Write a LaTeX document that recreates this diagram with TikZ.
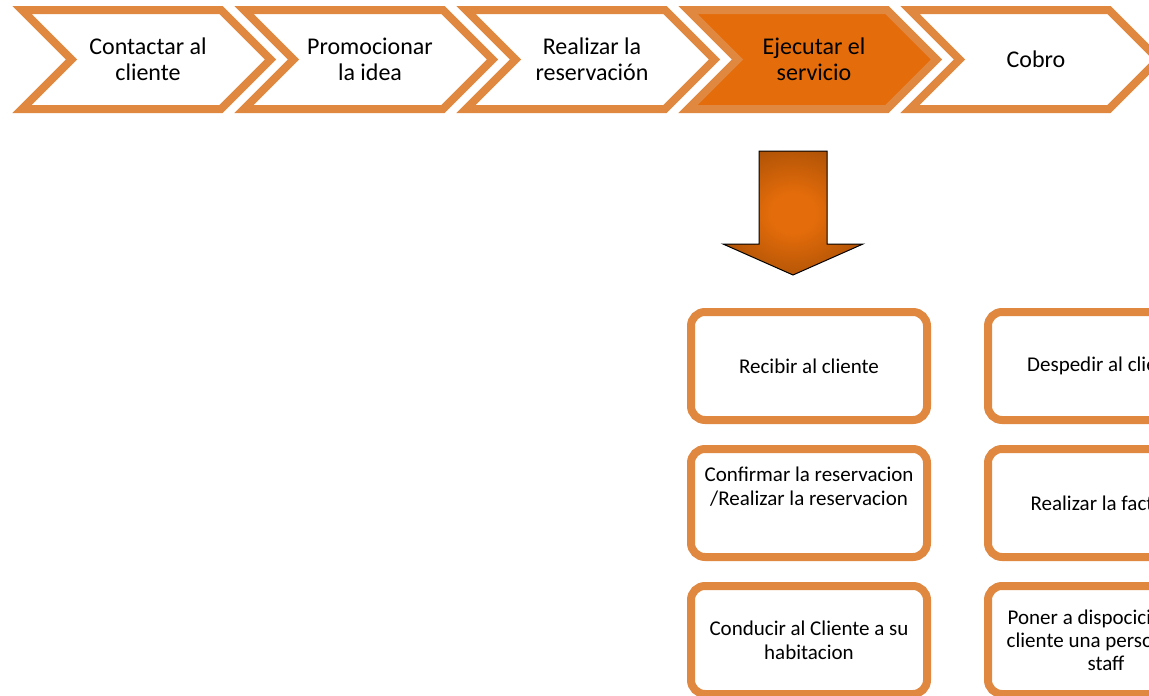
\documentclass[tikz,border=0pt]{standalone}
\usepackage{fontspec}
\setmainfont{Carlito}
\usetikzlibrary{backgrounds}
\definecolor{brd}{RGB}{224,136,64}
\definecolor{darkor}{RGB}{228,108,10}
\definecolor{peach}{RGB}{249,199,172}
\definecolor{brownish}{RGB}{136,64,4}
\pgfdeclareradialshading{arrowsh}{\pgfpoint{0bp}{0bp}}{color(0bp)=(darkor); color(8bp)=(darkor); color(42bp)=(brownish); color(50bp)=(brownish)}
\begin{document}
\begin{tikzpicture}[x=1pt,y=-1pt,
 chev/.style={draw=brd,line width=8pt,line join=miter,fill=white},
 chevtext/.style={align=center,font=\fontsize{24}{26}\selectfont,inner sep=0pt},
 box/.style={draw=brd,line width=8pt,rounded corners=14pt,fill=white,minimum width=236pt,minimum height=108pt,inner sep=0pt},
 boxtext/.style={align=center,font=\fontsize{21}{24}\selectfont,inner sep=0pt},
 conn/.style={draw=peach,line width=16pt}]
\useasboundingbox (0,0) rectangle (1149,696);
\fill[white] (0,0) rectangle (1149,696);

% chevrons
\foreach \i/\f in {0/white,1/white,2/white,3/darkor,4/white}{
  \pgfmathsetmacro{\o}{222*\i}
  \draw[chev,fill=\f] (22+\o,10) -- (221+\o,10) -- (270.5+\o,59.5) -- (221+\o,109) -- (22+\o,109) -- (71.5+\o,59.5) -- cycle;
}
\node[chevtext] (c1) at (148,59) {Contactar al\\cliente};
\node[chevtext] (c2) at (370,59) {Promocionar\\la idea};
\node[chevtext] (c3) at (592,59) {Realizar la\\reservación};
\node[chevtext] (c4) at (814,59) {Ejecutar el\\servicio};
\node[chevtext] (c5) at (1036,59) {Cobro};

% big down arrow
\draw[draw=black,line width=1pt,shading=arrowsh]
  (759,151) -- (827,151) -- (827,244) -- (863,244) -- (793,275) -- (723,244) -- (759,244) -- cycle;

% boxes
\node[box] (b1) at (809,366) {};
\node[box] (b2) at (809,503) {};
\node[box] (b3) at (809,640) {};
\node[box] (b4) at (1106,366) {};
\node[box] (b5) at (1106,503) {};
\node[box] (b6) at (1106,640) {};

\node[boxtext] (t1) at (b1) {Recibir al cliente};
\node[boxtext] (t2) at (809,487) {Confirmar la reservacion\\/Realizar la reservacion};
\node[boxtext] (t3) at (b3) {Conducir al Cliente a su\\habitacion};
\node[boxtext] (t4) at (b4) {Despedir al cliente};
\node[boxtext] (t5) at (b5) {Realizar la factura};
\node[boxtext,font=\fontsize{21}{23}\selectfont] (t6) at (b6) {Poner a dispocicion del\\cliente una persona del\\staff};

\begin{pgfonlayer}{background}
\draw[conn] ([xshift=-54pt]b1.south) -- ([xshift=-54pt]b2.north);
\draw[conn] ([xshift=-54pt]b2.south) -- ([xshift=-54pt]b3.north);
\draw[conn] ([xshift=-54pt]b4.south) -- ([xshift=-54pt]b5.north);
\draw[conn] ([xshift=-54pt]b5.south) -- ([xshift=-54pt]b6.north);
\draw[conn] ([yshift=28pt]b3.east) -- ([yshift=28pt]b6.west);
\draw[white,line width=1.5pt] ([yshift=32.5pt]b3.east) -- ([yshift=32.5pt]b6.west);
\end{pgfonlayer}
\end{tikzpicture}
\end{document}
